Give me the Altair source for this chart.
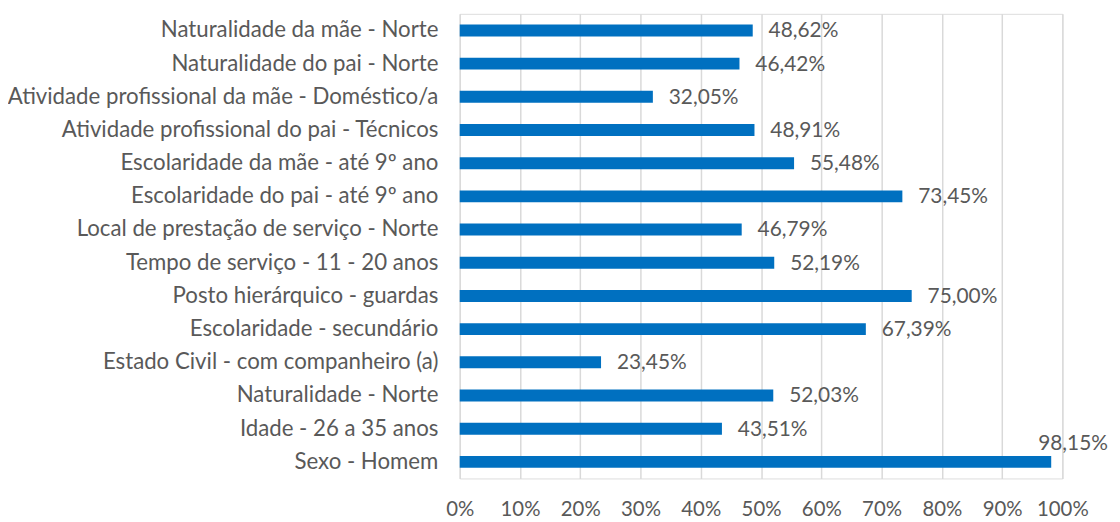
import altair as alt
import pandas as pd

categories = [
    "Naturalidade da mãe - Norte",
    "Naturalidade do pai - Norte",
    "Atividade profissional da mãe - Doméstico/a",
    "Atividade profissional do pai - Técnicos",
    "Escolaridade da mãe - até 9º ano",
    "Escolaridade do pai - até 9º ano",
    "Local de prestação de serviço - Norte",
    "Tempo de serviço - 11 - 20 anos",
    "Posto hierárquico - guardas",
    "Escolaridade - secundário",
    "Estado Civil - com companheiro (a)",
    "Naturalidade - Norte",
    "Idade - 26 a 35 anos",
    "Sexo - Homem",
]
values = [0.4862, 0.4642, 0.3205, 0.4891, 0.5548, 0.7345, 0.4679,
          0.5219, 0.7500, 0.6739, 0.2345, 0.5203, 0.4351, 0.9815]
labels = ["48,62%", "46,42%", "32,05%", "48,91%", "55,48%", "73,45%", "46,79%",
          "52,19%", "75,00%", "67,39%", "23,45%", "52,03%", "43,51%", "98,15%"]

df = pd.DataFrame({"cat": categories, "val": values, "lab": labels})

FONT = "Lato"
TXT = "#595959"

y_enc = alt.Y("cat:N", sort=categories, title=None,
              scale=alt.Scale(paddingInner=0.64, paddingOuter=0.32),
              axis=alt.Axis(ticks=False, domain=False, labelFontSize=22.4, labelFont=FONT,
                            labelColor=TXT, labelPadding=22, labelLimit=460,
                            minExtent=455, maxExtent=455))
x_enc = alt.X("val:Q", title=None,
              scale=alt.Scale(domain=[0, 1], nice=False),
              axis=alt.Axis(format=".0%", values=[i / 10 for i in range(11)],
                            ticks=False, domain=False, grid=True, gridColor="#D9D9D9",
                            gridWidth=1.5, labelFontSize=20.5, labelFont=FONT,
                            labelColor=TXT, labelPadding=21, labelOverlap=False,
                            labelFlush=False))

bars = alt.Chart(df).mark_bar(color="#0070C0").encode(x=x_enc, y=y_enc)

txt_main = alt.Chart(df).transform_filter("datum.val < 0.9").mark_text(
    align="left", baseline="middle", dx=16, dy=1, fontSize=21, font=FONT, color=TXT
).encode(x="val:Q", y=alt.Y("cat:N", sort=categories), text="lab:N")

txt_top = alt.Chart(df).transform_filter("datum.val >= 0.9").mark_text(
    align="center", baseline="middle", dx=22, dy=-18, fontSize=21, font=FONT, color=TXT
).encode(x="val:Q", y=alt.Y("cat:N", sort=categories), text="lab:N")

chart = alt.layer(bars, txt_main, txt_top).properties(
    width=607, height=468,
    autosize=alt.AutoSizeParams(type="none"),
    padding={"left": 455, "top": 4, "right": 50, "bottom": 42},
).configure_view(stroke=None).configure(background="white")

chart.save("out.html", embed_options={"renderer": "svg", "actions": False})
